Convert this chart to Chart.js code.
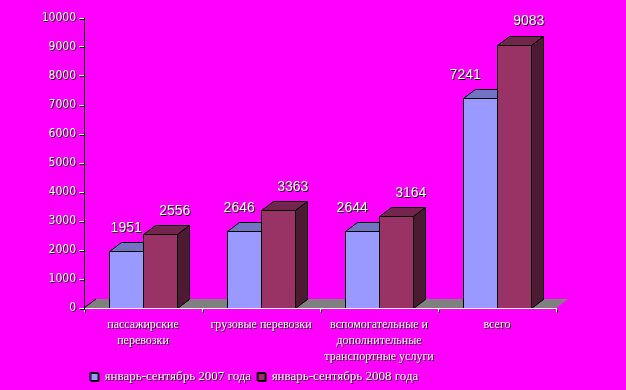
<!DOCTYPE html>
<html>
<head>
<meta charset="utf-8">
<script src="https://cdn.jsdelivr.net/npm/chart.js@4/dist/chart.umd.min.js"></script>
<style>
  html, body { margin: 0; padding: 0; background: #ff00ff; }
  #chart { display: block; }
</style>
</head>
<body>
<canvas id="chart" width="626" height="390"></canvas>
<script>
"use strict"

const categories = [
  ['пассажирские', 'перевозки'],
  'грузовые перевозки',
  ['вспомогательные и', 'дополнительные', 'транспортные услуги'],
  'всего'
];
const seriesNames = ['январь-сентябрь 2007 года', 'январь-сентябрь 2008 года'];
const values2007 = [1951, 2646, 2644, 7241];
const values2008 = [2556, 3363, 3164, 9083];
const yMin = 0;
const yMax = 10000;
const yStep = 1000;

// depth of the fake 3d
const DX = 12;
const DY = 9;

const faces = [
  { front: '#9999ff', top: '#7373c4', side: '#5c5c99' },
  { front: '#993366', top: '#73264d', side: '#4d1a33' }
];

const textShadow = {
  id: 'textShadow',
  beforeDraw(chart) {
    const ctx = chart.ctx;
    ctx.shadowColor = 'rgba(0,0,0,0.9)';
    ctx.shadowOffsetX = 1;
    ctx.shadowOffsetY = 1;
    ctx.shadowBlur = 0;
  }
};

const bars3d = {
  id: 'bars3d',
  beforeDatasetsDraw(chart) {
    const {ctx, chartArea} = chart;
    ctx.shadowColor = 'rgba(0,0,0,0)';
    ctx.shadowOffsetX = 0;
    ctx.shadowOffsetY = 0;

    // floor
    const l = chartArea.left, r = chartArea.right, b = chartArea.bottom;
    ctx.save();
    ctx.fillStyle = '#808080';
    ctx.beginPath();
    ctx.moveTo(l, b);
    ctx.lineTo(r, b);
    ctx.lineTo(r + DX, b - DY);
    ctx.lineTo(l + DX, b - DY);
    ctx.closePath();
    ctx.fill();
    ctx.strokeStyle = '#000';
    ctx.lineWidth = 1;
    ctx.beginPath();
    ctx.moveTo(l, b);
    ctx.lineTo(l + DX, b - DY);
    ctx.stroke();
    ctx.restore();

    const metas = chart.data.datasets.map((d, i) => chart.getDatasetMeta(i));
    const n = chart.data.labels.length;
    for (let j = 0; j < n; j++) {
      metas.forEach((meta, i) => {
        const bar = meta.data[j];
        const x0 = Math.round(bar.x - bar.width / 2) + 0.5;
        const x1 = Math.round(bar.x + bar.width / 2) + 0.5;
        const y = Math.round(bar.y) + 0.5;
        const base = Math.round(bar.base) + 0.5;
        const f = faces[i];
        ctx.save();
        ctx.strokeStyle = '#000';
        ctx.lineWidth = 1;
        // front
        ctx.fillStyle = f.front;
        ctx.fillRect(x0, y, x1 - x0, base - y);
        ctx.strokeRect(x0, y, x1 - x0, base - y);
        // top
        ctx.fillStyle = f.top;
        ctx.beginPath();
        ctx.moveTo(x0, y);
        ctx.lineTo(x1, y);
        ctx.lineTo(x1 + DX, y - DY);
        ctx.lineTo(x0 + DX, y - DY);
        ctx.closePath();
        ctx.fill();
        ctx.stroke();
        // side
        ctx.fillStyle = f.side;
        ctx.beginPath();
        ctx.moveTo(x1, y);
        ctx.lineTo(x1 + DX, y - DY);
        ctx.lineTo(x1 + DX, base - DY);
        ctx.lineTo(x1, base);
        ctx.closePath();
        ctx.fill();
        ctx.stroke();
        ctx.restore();
      });
    }

    // value labels
    ctx.save();
    ctx.shadowColor = 'rgba(0,0,0,0.9)';
    ctx.shadowOffsetX = 1;
    ctx.shadowOffsetY = 1;
    ctx.font = '14px "Liberation Sans", Arial, sans-serif';
    ctx.fillStyle = '#fff';
    ctx.textAlign = 'center';
    ctx.textBaseline = 'middle';
    metas.forEach((meta, i) => {
      const vals = chart.data.datasets[i].data;
      meta.data.forEach((bar, j) => {
        const off = i === 0 ? -5 * j : 15;
        ctx.fillText(String(vals[j]), bar.x + off, bar.y - 23);
      });
    });
    ctx.restore();
    ctx.shadowColor = 'rgba(0,0,0,0)';
    return false;
  }
};

new Chart(document.getElementById('chart'), {
  type: 'bar',
  data: {
    labels: categories,
    datasets: [
      {
        label: seriesNames[0],
        data: values2007,
        backgroundColor: faces[0].front,
        borderColor: '#000',
        borderWidth: 1,
        categoryPercentage: 0.57,
        barPercentage: 1
      },
      {
        label: seriesNames[1],
        data: values2008,
        backgroundColor: faces[1].front,
        borderColor: '#000',
        borderWidth: 1,
        categoryPercentage: 0.57,
        barPercentage: 1
      }
    ]
  },
  options: {
    responsive: false,
    animation: false,
    devicePixelRatio: 1,
    layout: {
      padding: { left: 0, right: 70, top: 18, bottom: -3 }
    },
    scales: {
      x: {
        grid: {
          display: true,
          drawOnChartArea: false,
          offset: true,
          tickLength: 4,
          color: '#fff'
        },
        border: { display: true, color: '#fff', z: 1 },
        ticks: {
          color: '#fff',
          padding: 5,
          maxRotation: 0,
          autoSkip: false,
          font: { family: '"Liberation Serif", "Times New Roman", serif', size: 12, lineHeight: '16px' }
        },
        afterFit(scale) { scale.height = 56; }
      },
      y: {
        min: yMin,
        max: yMax,
        grid: {
          display: true,
          drawOnChartArea: false,
          tickLength: 5,
          color: '#fff'
        },
        border: { display: true, color: '#000', z: 1 },
        ticks: {
          stepSize: yStep,
          color: '#fff',
          padding: 3,
          callback: v => String(v),
          font: { family: '"Liberation Sans Narrow", "DejaVu Sans Condensed", sans-serif', size: 12 }
        },
        afterFit(scale) { scale.width = 84; }
      }
    },
    plugins: {
      legend: {
        position: 'bottom',
        align: 'start',
        fullSize: false,
        labels: {
          color: '#fff',
          boxWidth: 8,
          boxHeight: 8,
          padding: 6,
          font: { family: '"Liberation Serif", "Times New Roman", serif', size: 13 }
        }
      },
      tooltip: { enabled: false }
    }
  },
  plugins: [textShadow, bars3d]
});
</script>
</body>
</html>
